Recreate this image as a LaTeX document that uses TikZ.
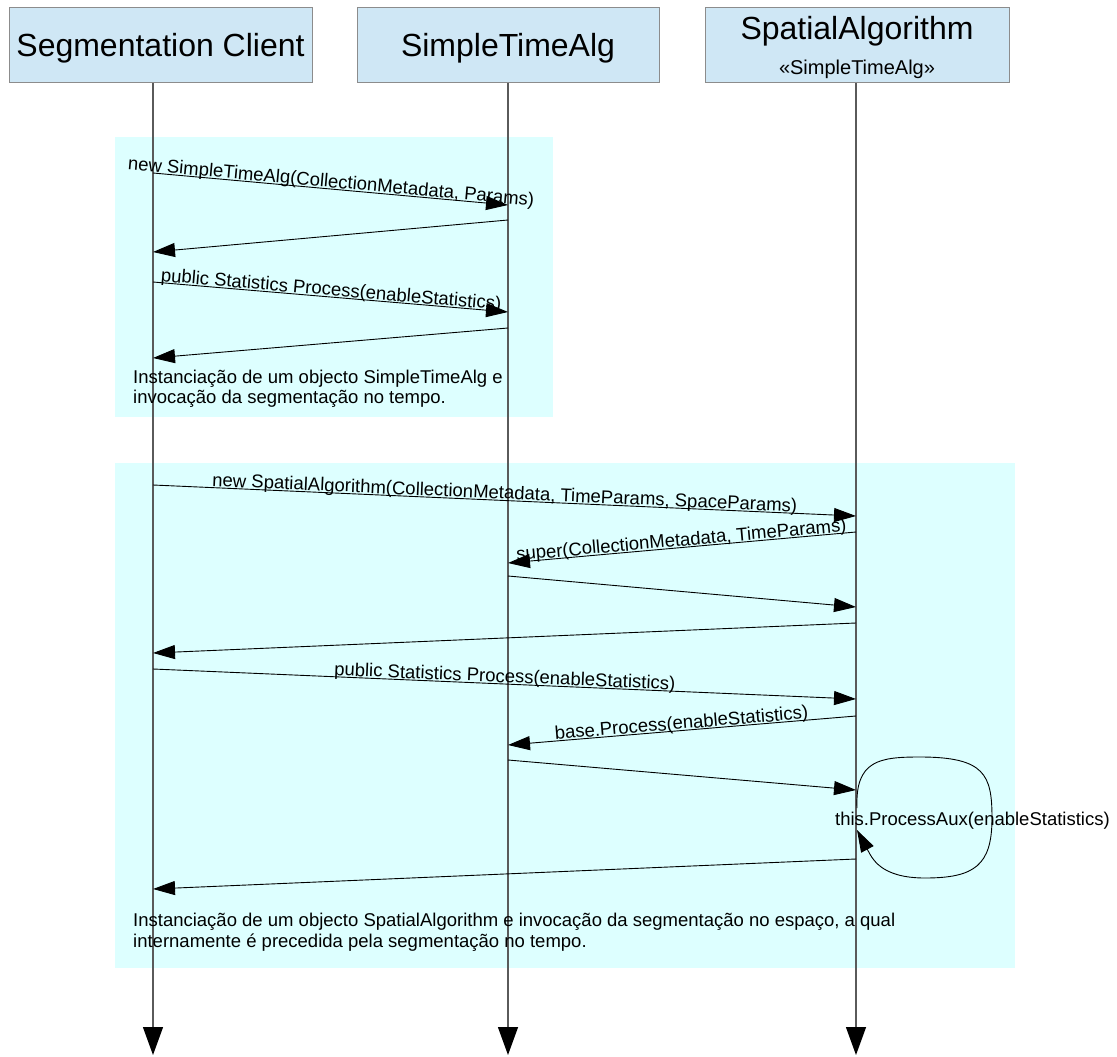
\documentclass[tikz,border=0pt]{standalone}
\usepackage{fontspec}
\setmainfont{Liberation Sans}
\usetikzlibrary{arrows.meta}
\definecolor{hdrfill}{HTML}{CFE7F5}
\definecolor{hdrline}{HTML}{8C8C8C}
\definecolor{frag}{HTML}{DDFFFF}
\definecolor{lifeln}{HTML}{5A5A5A}
\begin{document}
\begin{tikzpicture}[x=1pt,y=-1pt,
 hdr/.style={draw=hdrline, fill=hdrfill, line width=1pt, inner sep=0pt, minimum height=75pt},
 big/.style={font=\fontsize{32}{38}\selectfont, anchor=base, inner sep=0pt},
 small/.style={font=\fontsize{20}{24}\selectfont, anchor=base, inner sep=0pt},
 lbl/.style={font=\fontsize{18.5}{21}\selectfont, sloped, anchor=base, inner sep=0pt, yshift=1.5pt, pos=0.5},
 note/.style={font=\fontsize{18.5}{21}\selectfont, anchor=base west, inner sep=0pt},
 msg/.style={draw=black, line width=0.9pt, -{Triangle[length=22pt,width=14pt]}},
 life/.style={draw=lifeln, line width=1.3pt, -{Triangle[length=28pt,width=20pt,color=black]}},
 fragbox/.style={fill=frag, draw=none}]
\useasboundingbox (0,0) rectangle (1117,1057);
\fill[white] (0,0) rectangle (1117,1057);
% fragments
\path[fragbox] (115,137) rectangle (553,417);
\path[fragbox] (115,463) rectangle (1015,968);
% headers
\node[hdr, minimum width=303pt] (seg) at (160.5,45.5) {};
\node[hdr, minimum width=302pt] (sta) at (508,45.5) {};
\node[hdr, minimum width=304pt] (spa) at (857,45.5) {};
\node[big] (segT) at (160.5,57) {Segmentation Client};
\node[big] (staT) at (508,57) {SimpleTimeAlg};
\node[big] (spaT) at (857,40) {SpatialAlgorithm};
\node[small] (spaS) at (857,75) {«SimpleTimeAlg»};
% lifelines
\coordinate (segTop) at (153,83);
\coordinate (segEnd) at (153,1055);
\coordinate (staTop) at (508,83);
\coordinate (staEnd) at (508,1055);
\coordinate (spaTop) at (856,83);
\coordinate (spaEnd) at (856,1055);
\draw[life] (segTop) -- (segEnd);
\draw[life] (staTop) -- (staEnd);
\draw[life] (spaTop) -- (spaEnd);
% message endpoints
\coordinate (a1) at (153,173); \coordinate (b1) at (508,205);
\coordinate (a2) at (508,220); \coordinate (b2) at (153,252);
\coordinate (a3) at (153,282); \coordinate (b3) at (508,312);
\coordinate (a4) at (508,328); \coordinate (b4) at (153,358);
\coordinate (a5) at (153,485); \coordinate (b5) at (856,516);
\coordinate (a6) at (856,532); \coordinate (b6) at (508,563);
\coordinate (a7) at (508,576); \coordinate (b7) at (856,607);
\coordinate (a8) at (856,623); \coordinate (b8) at (153,653);
\coordinate (a9) at (153,669); \coordinate (b9) at (856,699);
\coordinate (a10) at (856,716); \coordinate (b10) at (508,745);
\coordinate (a11) at (508,760); \coordinate (b11) at (856,790);
\coordinate (a12) at (856,859); \coordinate (b12) at (153,889);
\coordinate (lp1) at (857,808); \coordinate (lp2) at (857,830);
% messages
\draw[msg] (a1) -- node[lbl] (l1) {new SimpleTimeAlg(CollectionMetadata, Params)} (b1);
\draw[msg] (a2) -- (b2);
\draw[msg] (a3) -- node[lbl] (l3) {public Statistics Process(enableStatistics)} (b3);
\draw[msg] (a4) -- (b4);
\draw[msg] (a5) -- node[lbl] (l5) {new SpatialAlgorithm(CollectionMetadata, TimeParams, SpaceParams)} (b5);
\draw[msg] (a6) -- node[lbl] (l6) {super(CollectionMetadata, TimeParams)} (b6);
\draw[msg] (a7) -- (b7);
\draw[msg] (a8) -- (b8);
\draw[msg] (a9) -- node[lbl] (l9) {public Statistics Process(enableStatistics)} (b9);
\draw[msg] (a10) -- node[lbl] (l10) {base.Process(enableStatistics)} (b10);
\draw[msg] (a11) -- (b11);
\draw[msg] (lp1) .. controls (855,760) and (880,757) .. (920,757)
  .. controls (985,757) and (992,775) .. (992,818)
  .. controls (992,865) and (975,878) .. (925,878)
  .. controls (880,878) and (872,858) .. (lp2);
\node[note] (lpT) at (835,825) {this.ProcessAux(enableStatistics)};
\draw[msg] (a12) -- (b12);
% notes
\node[note] (n1a) at (133,383) {Instanciação de um objecto SimpleTimeAlg e};
\node[note] (n1b) at (133,403) {invocação da segmentação no tempo.};
\node[note] (n2a) at (133,926) {Instanciação de um objecto SpatialAlgorithm e invocação da segmentação no espaço, a qual};
\node[note] (n2b) at (133,947) {internamente é precedida pela segmentação no tempo.};
\end{tikzpicture}
\end{document}
